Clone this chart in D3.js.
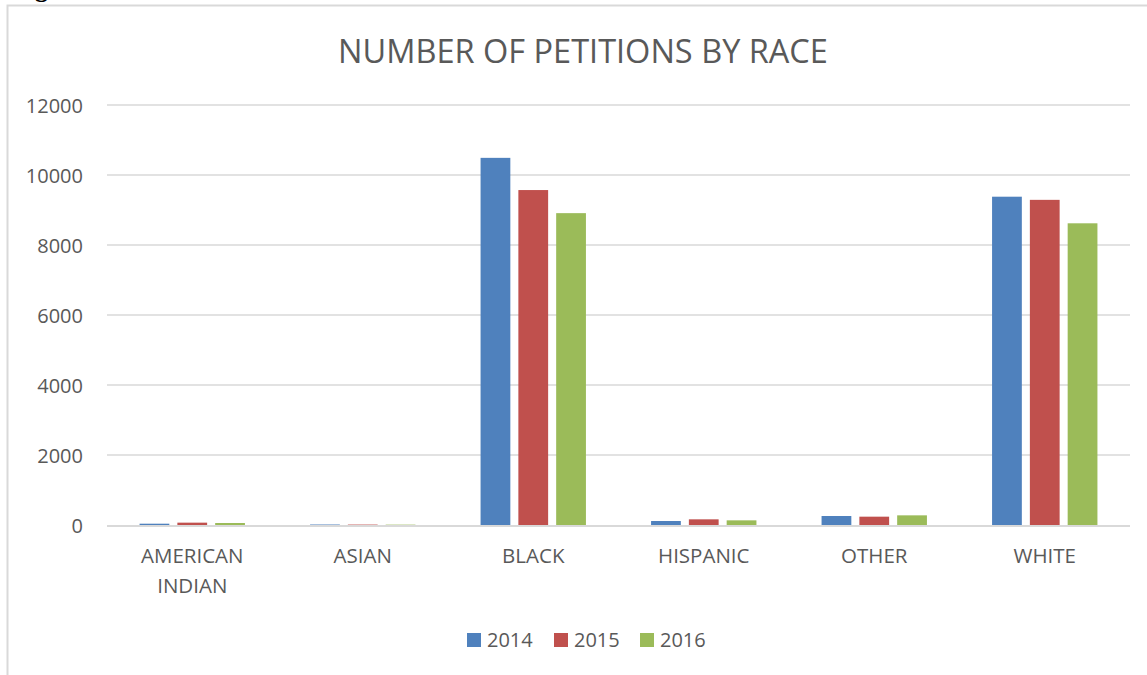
<!DOCTYPE html>
<html>
<head>
<meta charset="utf-8">
<script src="https://cdn.jsdelivr.net/npm/d3@7"></script>
<style>
  html, body { margin: 0; padding: 0; background: #ffffff; }
  svg { display: block; }
</style>
</head>
<body>
<svg id="chart" width="1147" height="675"></svg>
<script>
// Petitions by race, grouped by year
const categories = ["AMERICAN INDIAN", "ASIAN", "BLACK", "HISPANIC", "OTHER", "WHITE"];
const years = ["2014", "2015", "2016"];
const values2014 = [37, 14, 10490, 114, 257, 9380];
const values2015 = [67, 12, 9570, 162, 238, 9290];
const values2016 = [57, 10, 8910, 133, 276, 8620];
const yTicks = [0, 2000, 4000, 6000, 8000, 10000, 12000];
const colors = ["#4f81bd", "#c0504d", "#9bbb59"];

const seriesValues = [values2014, values2015, values2016];
const rows = categories.map((c, i) => ({
  category: c,
  values: years.map((y, j) => ({ year: y, value: seriesValues[j][i] }))
}));

const svg = d3.select("#chart");
const font = "'Open Sans', 'Noto Sans', sans-serif";
const textColor = "#595959";
const gridColor = "#d9d9d9";

// Caption above the chart frame (mostly cut off at the top edge)
svg.append("text")
  .attr("x", 12).attr("y", -3)
  .attr("font-family", "'Liberation Serif', 'DejaVu Serif', serif")
  .attr("font-weight", "bold")
  .attr("font-size", 26)
  .attr("fill", "#000")
  .text("Figure");

// Chart frame
svg.append("rect")
  .attr("x", 7.5).attr("y", 5.5)
  .attr("width", 1160).attr("height", 700)
  .attr("fill", "none")
  .attr("stroke", gridColor)
  .attr("stroke-width", 2);

const plot = { left: 107, right: 1130, top: 105, bottom: 525 };

const x = d3.scaleBand()
  .domain(categories)
  .range([plot.left, plot.right])
  .paddingInner(0.382)
  .paddingOuter(0.191);

const xInner = d3.scaleBand()
  .domain(years)
  .range([0, x.bandwidth()])
  .paddingInner(0.2126)
  .paddingOuter(0);

const y = d3.scaleLinear()
  .domain([0, 12000])
  .range([plot.bottom, plot.top]);

// Horizontal gridlines
svg.append("g")
  .selectAll("line")
  .data(yTicks.filter(t => t > 0))
  .join("line")
  .attr("x1", plot.left).attr("x2", plot.right)
  .attr("y1", d => y(d)).attr("y2", d => y(d))
  .attr("stroke", gridColor)
  .attr("stroke-width", 1.5);

// Y axis labels
const yAxis = svg.append("g")
  .attr("transform", `translate(${plot.left - 24},0)`)
  .call(d3.axisLeft(y).tickValues(yTicks).tickSize(0).tickPadding(0).tickFormat(d3.format("d")));
yAxis.select(".domain").remove();
yAxis.selectAll("text")
  .attr("font-family", font)
  .attr("font-size", 20)
  .attr("fill", textColor)
  .attr("dy", "0.35em");

// Bars
const groups = svg.append("g")
  .selectAll("g")
  .data(rows)
  .join("g")
  .attr("transform", d => `translate(${x(d.category)},0)`);

groups.selectAll("rect")
  .data(d => d.values)
  .join("rect")
  .attr("x", d => xInner(d.year))
  .attr("width", xInner.bandwidth())
  .attr("y", d => y(d.value))
  .attr("height", d => y(0) - y(d.value))
  .attr("fill", (d, i) => colors[i]);

// Category axis line
svg.append("line")
  .attr("x1", plot.left).attr("x2", plot.right)
  .attr("y1", y(0) + 1).attr("y2", y(0) + 1)
  .attr("stroke", gridColor)
  .attr("stroke-width", 2);

// Category labels (wrapped on the space for two-word names)
const xAxis = svg.append("g")
  .attr("transform", `translate(0,${plot.bottom})`)
  .call(d3.axisBottom(x).tickSize(0).tickPadding(0));
xAxis.select(".domain").remove();
xAxis.selectAll("text").remove();
xAxis.selectAll(".tick")
  .append("text")
  .attr("font-family", font)
  .attr("font-size", 20.5)
  .attr("fill", textColor)
  .attr("text-anchor", "middle")
  .each(function(d) {
    const words = d.split(" ");
    const t = d3.select(this);
    words.forEach((w, i) => {
      t.append("tspan")
        .attr("x", 0)
        .attr("y", 38 + i * 30)
        .text(w);
    });
  });

// Title
svg.append("text")
  .attr("x", 583)
  .attr("y", 63)
  .attr("text-anchor", "middle")
  .attr("font-family", font)
  .attr("font-size", 32.5)
  .attr("fill", textColor)
  .text("NUMBER OF PETITIONS BY RACE");

// Legend
const legendX = [467, 554, 640];
const legend = svg.append("g")
  .selectAll("g")
  .data(years)
  .join("g")
  .attr("transform", (d, i) => `translate(${legendX[i]},633)`);
legend.append("rect")
  .attr("width", 14).attr("height", 14)
  .attr("fill", (d, i) => colors[i]);
legend.append("text")
  .attr("x", 20).attr("y", 7)
  .attr("dy", "0.35em")
  .attr("font-family", font)
  .attr("font-size", 20)
  .attr("fill", textColor)
  .text(d => d);
</script>
</body>
</html>
